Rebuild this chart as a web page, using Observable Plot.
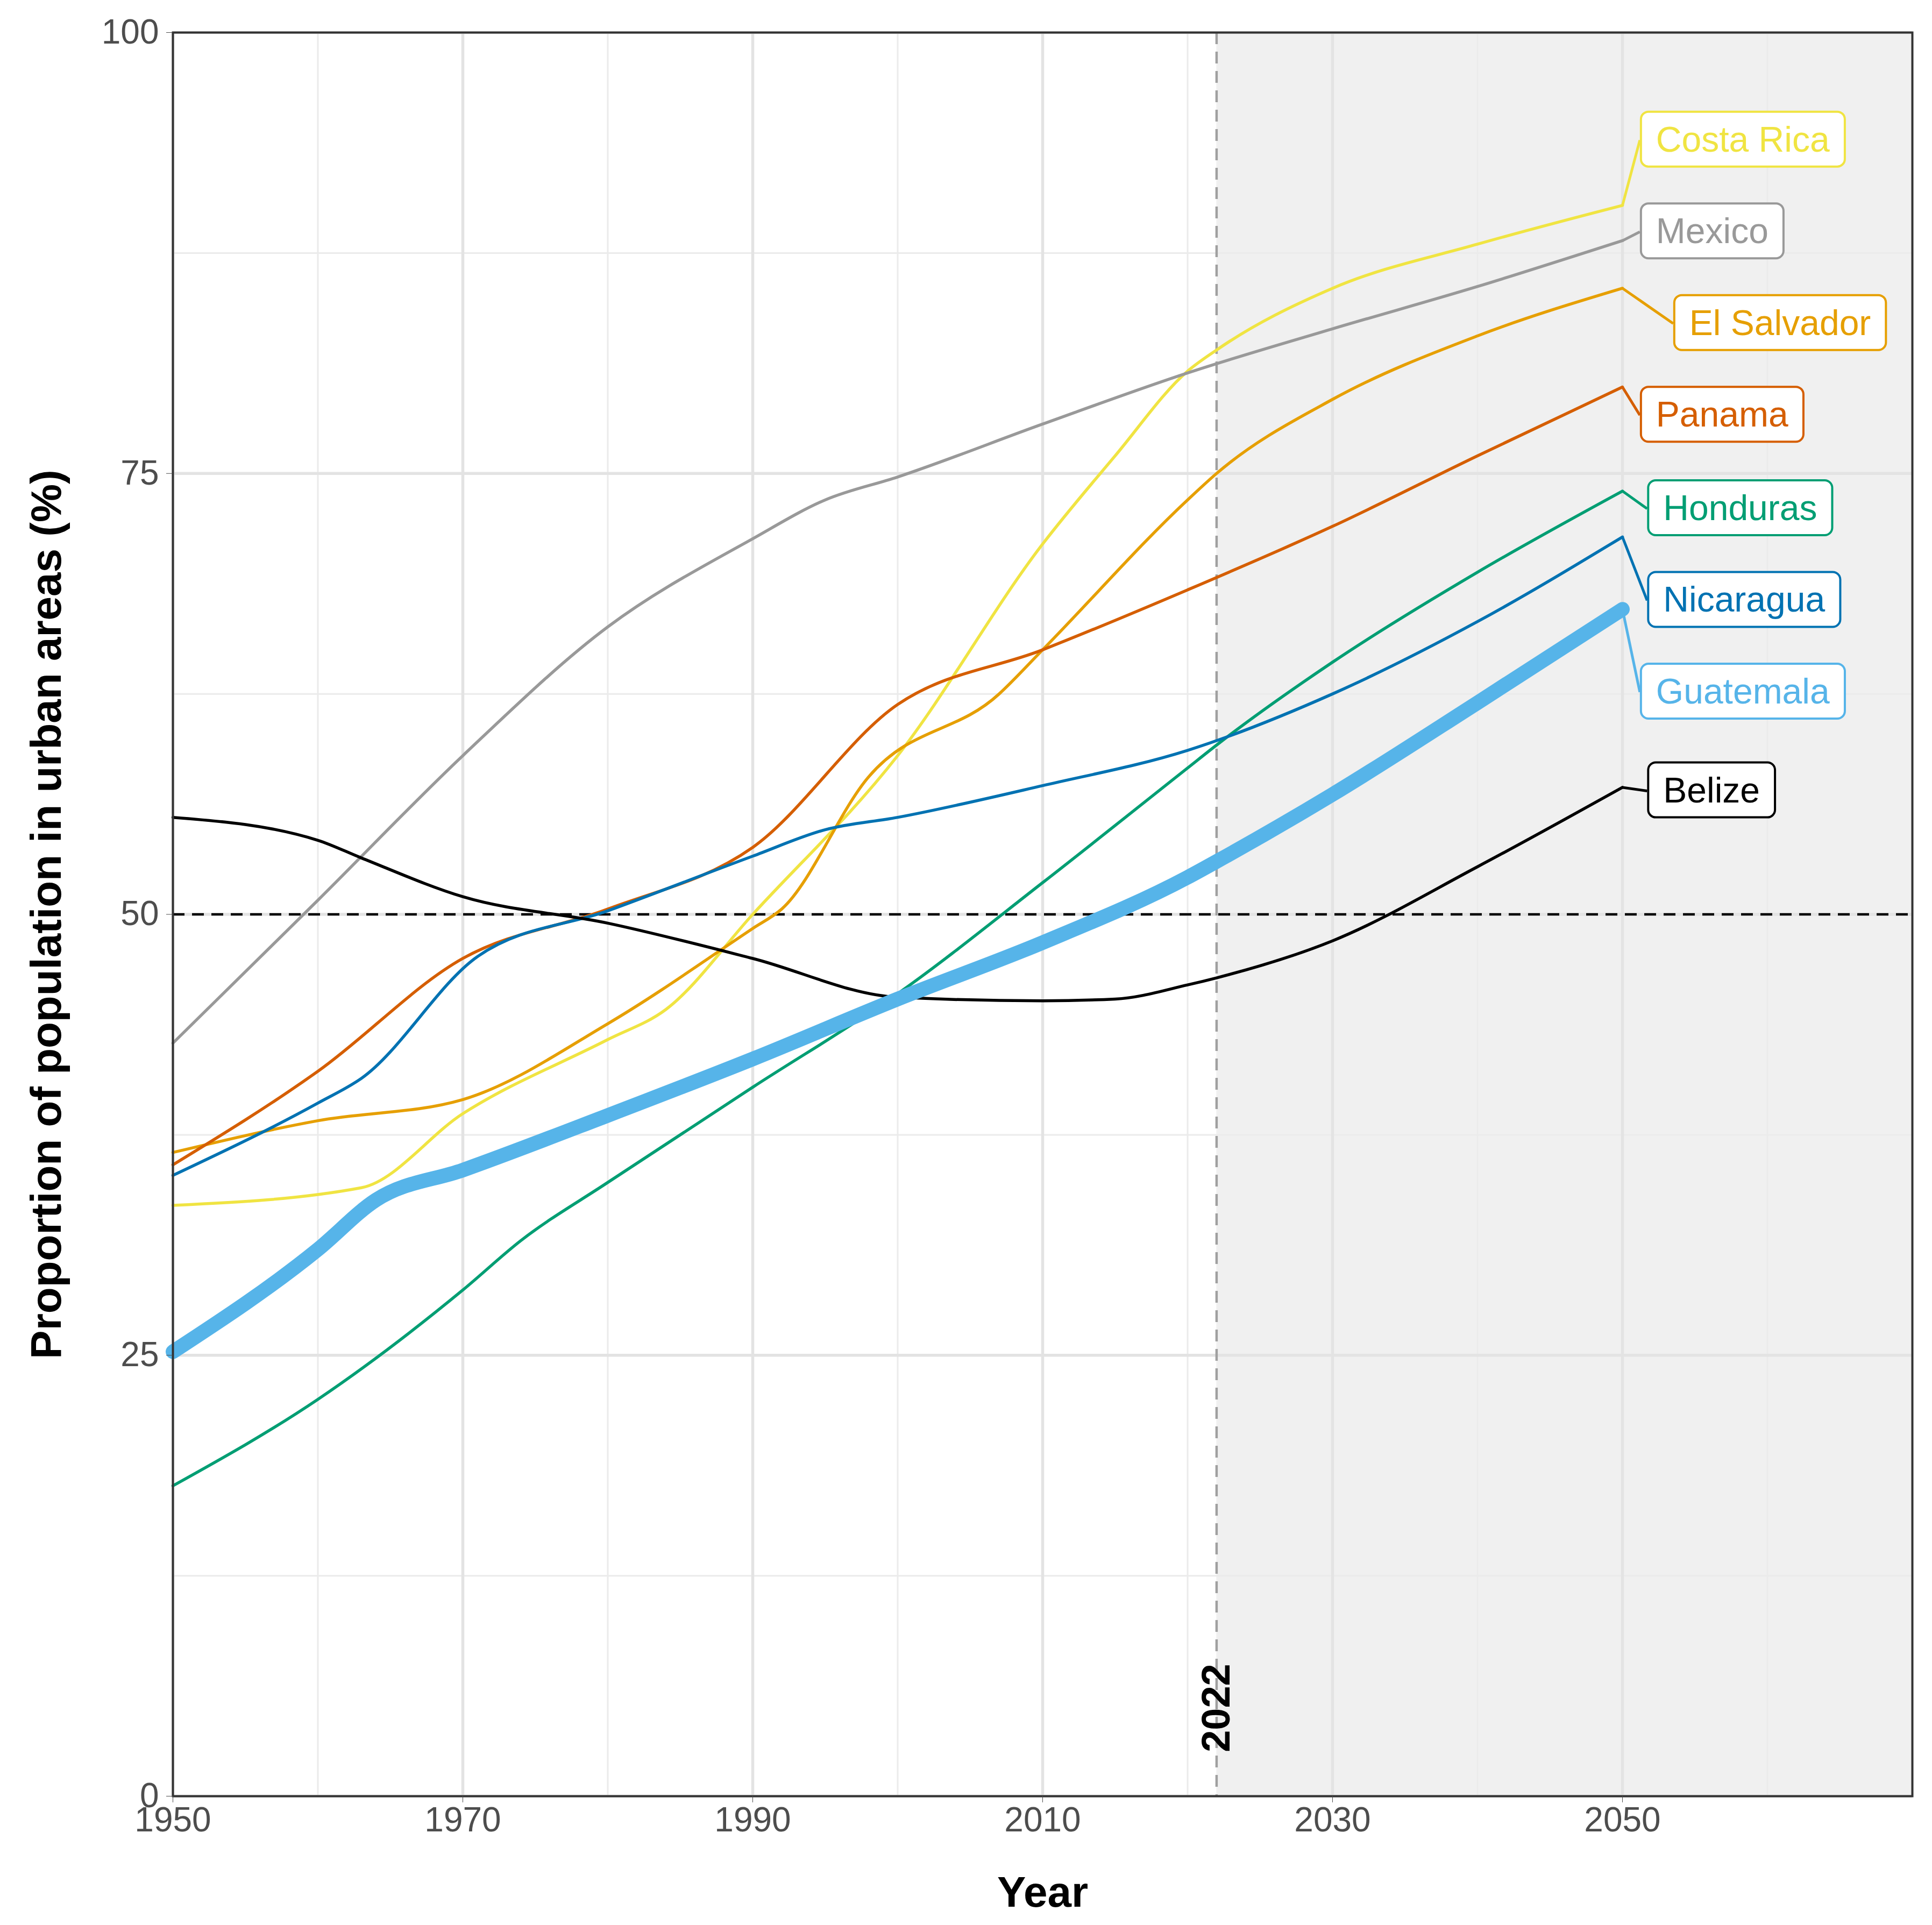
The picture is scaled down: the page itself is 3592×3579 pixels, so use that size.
<!DOCTYPE html>
<html><head><meta charset="utf-8">
<script src="https://cdn.jsdelivr.net/npm/d3@7"></script>
<script src="https://cdn.jsdelivr.net/npm/@observablehq/plot@0.6"></script>
<style>body{margin:0;background:#fff}</style>
</head><body><div id="chart"></div>
<script>
const countries = ["Costa Rica","Mexico","El Salvador","Panama","Honduras","Nicaragua","Guatemala","Belize"];
const colors = ["#F0E442","#999999","#E69F00","#D55E00","#009E73","#0072B2","#56B4E9","#000000"];
const years = {
 "Guatemala":[1950,1960,1964,1970,1980,1990,2000,2010,2020,2022,2030,2040,2050],
 "Belize":[1950,1960,1963,1970,1980,1990,2000,2010,2015,2020,2022,2030,2040,2050],
 "Mexico":[1950,1960,1970,1980,1990,1995,2000,2010,2020,2030,2040,2050],
 "Costa Rica":[1950,1963,1970,1980,1984,1990,2000,2010,2015,2020,2022,2030,2040,2050],
 "El Salvador":[1950,1960,1970,1980,1990,1992,1998,2007,2010,2020,2022,2030,2040,2050],
 "Panama":[1950,1960,1970,1980,1990,2000,2010,2020,2030,2040,2050],
 "Honduras":[1950,1960,1970,1974,1980,1990,2000,2010,2020,2022,2030,2040,2050],
 "Nicaragua":[1950,1960,1963,1971,1980,1990,1995,2000,2010,2020,2030,2040,2050]
};
const values = {
 "Guatemala":[25.2,31,33.8,35.5,38.6,41.8,45.2,48.4,52.1,53,56.8,62,67.3],
 "Belize":[55.5,54.2,53.2,51,49.5,47.5,45.3,45.1,45.2,46,46.4,48.5,52.7,57.2],
 "Mexico":[42.7,50.8,59,66.3,71.3,73.5,74.8,77.8,80.7,83.2,85.6,88.2],
 "Costa Rica":[33.5,34.5,38.7,42.9,44.6,50,59,71,76,80.8,82,85.5,88,90.2],
 "El Salvador":[36.5,38.3,39.5,43.8,49.2,50.3,57.8,62.5,65,73.5,75,79.2,82.8,85.5],
 "Panama":[35.8,41.1,47.5,50.3,53.8,61.9,65,68.4,72,76,79.9],
 "Honduras":[17.6,22.5,28.7,31.5,34.8,40.2,45.5,51.8,58.3,59.6,64.3,69.4,74],
 "Nicaragua":[35.2,39.3,40.7,47.6,50.2,53.3,54.8,55.5,57.3,59.3,62.5,66.6,71.4]
};
const labelX = [2051.2,2051.2,2053.5,2051.2,2051.7,2051.7,2051.2,2051.7];
const labelY = [93.9,88.7,83.5,78.3,73.0,67.8,62.6,57.0];
const xTicks = [1950,1970,1990,2010,2030,2050];
const yTicks = [0,25,50,75,100];

const rows = countries.flatMap(c => years[c].map((y,i)=>({country:c, year:y, value:values[c][i]})));
const labels = countries.map((c,i)=>({country:c, x:labelX[i], y:labelY[i],
  ex: 2050, ey: values[c][values[c].length-1], color: colors[i]}));
const thin = rows.filter(d=>d.country!=="Guatemala");
const guat = rows.filter(d=>d.country==="Guatemala");
const color = {domain: countries, range: colors};

const chart = Plot.plot({
  width: 3592, height: 3579,
  marginLeft: 321, marginRight: 37, marginTop: 60, marginBottom: 240,
  style: {fontFamily: "Arial, 'Liberation Sans', sans-serif", fontSize: "64px", color:"#4d4d4d"},
  x: {domain:[1950,2070]},
  y: {domain:[0,100]},
  color,
  marks: [
    Plot.rect([{x1:2022,x2:2070}], {x1:"x1", x2:"x2", y1:0, y2:100, fill:"#f0f0f0"}),
    Plot.gridX(d3.range(1960,2071,20), {stroke:"#ebebeb", strokeOpacity:1, strokeWidth:3}),
    Plot.gridY([12.5,37.5,62.5,87.5], {stroke:"#ebebeb", strokeOpacity:1, strokeWidth:3}),
    Plot.gridX(xTicks, {stroke:"#e3e3e3", strokeOpacity:1, strokeWidth:5.5}),
    Plot.gridY(yTicks, {stroke:"#e3e3e3", strokeOpacity:1, strokeWidth:5.5}),
    Plot.ruleY([50], {stroke:"#000", strokeWidth:4.5, strokeDasharray:"22,14"}),
    Plot.ruleX([2022], {stroke:"#a0a0a0", strokeWidth:4.5, strokeDasharray:"22,14"}),
    Plot.text([{x:2022,y:5}], {x:"x", y:"y", text:()=>"2022", rotate:-90, fontWeight:"bold", fontSize:74, fill:"#000", textAnchor:"middle"}),
    Plot.line(thin, {x:"year", y:"value", z:"country", stroke:"country", strokeWidth:5.5, curve:"monotone-x"}),
    Plot.line(guat, {x:"year", y:"value", stroke:"country", strokeWidth:27, curve:"monotone-x"}),
    Plot.link(labels, {x1:"ex", y1:"ey", x2:"x", y2:"y", stroke:"color", strokeWidth:5}),
    Plot.text(labels, {x:"x", y:"y", text:"country", fill:"color", textAnchor:"start", lineAnchor:"middle", dx:30, fontSize:66, className:"lbl"}),
    Plot.frame({stroke:"#333", strokeWidth:4}),
    Plot.axisX({ticks:xTicks, tickFormat:d=>String(d), tickSize:12, tickPadding:8, fontSize:64, fill:"#4d4d4d",
      label:"Year", labelAnchor:"center", labelOffset:205}),
    Plot.axisY({ticks:yTicks, tickSize:12, tickPadding:14, fontSize:64, fill:"#4d4d4d",
      label:"Proportion of population in urban areas (%)", labelAnchor:"center", labelOffset:265, labelArrow:"none"})
  ]
});
document.getElementById("chart").appendChild(chart);
const svg = d3.select(chart);
svg.selectAll("[aria-label='x-axis label'] text, [aria-label='y-axis label'] text")
  .style("font-weight","bold").style("font-size","80px").style("fill","#000");
svg.selectAll("[aria-label='x-axis label'] text").text("Year");
svg.selectAll("[aria-label='y-axis label'] text").text("Proportion of population in urban areas (%)");
svg.selectAll(".lbl text").each(function(){
  const b = this.getBBox();
  const fill = this.getAttribute("fill") || d3.select(this.parentNode).attr("fill");
  const pad = 28;
  d3.select(this.parentNode).insert("rect", ()=>this)
    .attr("transform", this.getAttribute("transform"))
    .attr("x", b.x-pad).attr("y", b.y-14).attr("width", b.width+2*pad).attr("height", b.height+28)
    .attr("rx",14).attr("fill","#fff").attr("stroke", fill).attr("stroke-width",4);
});
</script></body></html>
